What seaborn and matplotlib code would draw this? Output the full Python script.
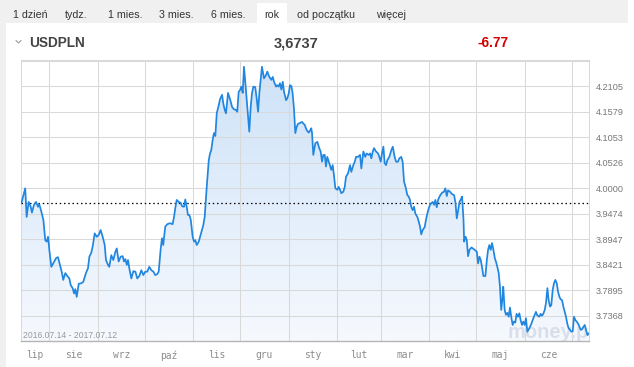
import numpy as np
import pandas as pd
import matplotlib
matplotlib.use('Agg')
import matplotlib.pyplot as plt
import seaborn as sns
from matplotlib.patches import Rectangle, Polygon
from matplotlib.lines import Line2D
from matplotlib.colors import LinearSegmentedColormap

# ---------------- data ----------------
START = '2016-07-14'
END = '2017-07-12'
SYMBOL = 'USDPLN'
LAST = '3,6737'
CHANGE = '-6.77'
DATE_RANGE = '2016.07.14 - 2017.07.12'
TABS = ['1 dzień', 'tydz.', '1 mies.', '3 mies.', '6 mies.', 'rok', 'od początku', 'więcej']
MONTHS = ['lip', 'sie', 'wrz', 'paź', 'lis', 'gru', 'sty', 'lut', 'mar', 'kwi', 'maj', 'cze']
Y_TICKS = [3.7368, 3.7895, 3.8421, 3.8947, 3.9474, 4.0000, 4.0526, 4.1053, 4.1579, 4.2105]
Y_TICK_LABELS = ['3.7368', '3.7895', '3.8421', '3.8947', '3.9474', '4.0000',
                 '4.0526', '4.1053', '4.1579', '4.2105']
Y_EXTRA_GRID = [4.2632]
REF_LEVEL = 3.969

# days since START
DAYS = [0.2, 2.7, 3.6, 4.9, 6.2, 7.0, 8.3, 9.6, 10.9, 11.7, 13.0, 14.3, 15.5, 16.4, 17.3, 18.1, 19.4, 20.6, 22.4, 23.6,
        24.9, 26.2, 27.0, 28.3, 29.6, 30.9, 31.8, 33.0, 33.9, 34.7, 35.6, 36.9, 38.5, 39.8, 41.5, 42.8, 43.7, 44.9, 45.8, 47.1,
        48.4, 49.7, 50.9, 52.2, 53.5, 54.3, 55.6, 56.4, 57.7, 59.0, 60.3, 61.2, 62.4, 63.7, 65.0, 65.8, 66.7, 67.6, 68.4, 69.2,
        70.5, 71.8, 73.1, 74.3, 75.6, 76.9, 78.2, 79.4, 80.7, 82.0, 83.3, 84.6, 85.8, 87.1, 88.0, 89.3, 90.1, 90.9, 92.2, 93.5,
        95.2, 96.9, 97.8, 98.6, 99.5, 100.8, 102.1, 102.9, 104.2, 105.0, 105.9, 106.7, 107.6, 108.5, 109.7, 110.6, 111.4, 112.3, 113.6, 114.8,
        116.5, 117.4, 118.7, 120.0, 120.8, 121.6, 122.5, 123.3, 124.2, 125.1, 126.4, 127.2, 128.5, 129.3, 130.2, 131.0, 132.3, 133.6, 134.9, 136.1,
        137.4, 138.2, 139.1, 140.0, 140.8, 141.7, 142.5, 143.4, 144.6, 145.9, 146.8, 147.6, 148.5, 149.7, 150.6, 151.5, 152.3, 153.2, 154.0, 155.3,
        156.6, 157.4, 158.7, 160.0, 160.9, 161.7, 163.0, 163.8, 164.7, 165.5, 166.4, 167.3, 168.1, 169.4, 170.2, 171.1, 171.9, 172.8, 173.6, 174.5,
        175.3, 176.2, 177.0, 178.3, 179.6, 180.4, 181.3, 182.6, 183.9, 184.7,
        185.5, 186.0, 186.8, 188.1, 189.4, 190.6, 191.5, 192.4, 193.2, 194.1, 194.9, 195.7, 197.0, 198.3, 199.2, 200.0, 200.9, 202.2, 203.0, 203.9,
        204.7, 206.0, 206.9, 207.7, 209.0, 210.3, 211.1, 212.4, 213.3, 214.1, 215.4, 216.7, 217.5, 218.8, 220.0, 220.9, 222.2, 223.1, 223.9, 224.8,
        225.6, 226.9, 228.2, 229.0, 229.9, 230.7, 231.6, 232.4, 233.3, 234.1, 235.4, 236.7, 237.6, 238.8, 239.7, 240.9, 241.8, 243.0, 243.9, 244.8,
        246.0, 246.9, 247.8, 248.6, 249.4, 250.3, 251.2, 252.0, 253.3, 254.2, 255.0, 255.8, 256.7, 258.0, 258.8, 259.7, 260.6, 261.4, 262.2, 263.1,
        264.0, 264.8, 265.7, 266.5,
        267.8, 269.1, 270.3, 271.2, 272.1, 272.9, 274.2, 275.5, 276.8, 277.7, 278.5, 279.4, 280.2, 281.1, 281.9, 282.8, 283.2, 284.1, 284.9, 285.7,
        286.6, 287.9, 288.7, 290.0, 291.3, 292.1, 293.0, 293.8, 294.6, 295.5, 296.8, 297.7, 298.5, 299.3, 300.2, 301.0, 301.9, 302.8, 303.6, 304.4,
        305.3, 306.1, 306.9, 307.8, 308.2, 309.1, 309.9, 310.8, 311.7, 312.5, 313.3, 314.2, 315.0, 315.9, 316.7, 317.6, 318.5, 319.3, 320.2, 321.0,
        321.9, 322.7, 323.6, 324.5, 325.3, 326.1, 327.0, 327.8, 329.1, 329.9, 331.2, 332.1, 332.9, 333.8, 334.7, 335.5, 336.4, 337.2, 338.1, 338.9,
        339.8, 340.6, 341.5, 342.4, 343.2, 344.1, 344.9, 345.8, 346.6, 347.5, 348.3, 349.1, 350.0, 350.9, 351.7, 352.6, 353.4, 354.3, 355.1, 356.0,
        356.9, 357.7, 358.6, 359.4, 360.3, 361.1, 362.0, 362.9]

VALUES = [3.969, 4.000, 3.941, 3.972, 3.962, 3.950, 3.966, 3.972, 3.962, 3.967,
          3.952, 3.935, 3.893, 3.890, 3.900, 3.873, 3.838, 3.845, 3.856, 3.858,
          3.842, 3.825, 3.811, 3.825, 3.819, 3.814, 3.800, 3.794, 3.783, 3.792,
          3.776, 3.803, 3.804, 3.807, 3.825, 3.835, 3.859, 3.867, 3.880, 3.907,
          3.900, 3.904, 3.914, 3.900, 3.883, 3.852, 3.842, 3.838, 3.862, 3.852,
          3.869, 3.876, 3.849, 3.859, 3.860, 3.849, 3.854, 3.842, 3.852, 3.835,
          3.814, 3.829, 3.828, 3.814, 3.819, 3.831, 3.821, 3.828, 3.828, 3.838,
          3.831, 3.828, 3.821, 3.823, 3.828, 3.876, 3.897, 3.883, 3.921, 3.926,
          3.928, 3.926, 3.941, 3.959, 3.976, 3.972, 3.970, 3.963, 3.962, 3.977,
          3.962, 3.945, 3.945, 3.935, 3.900, 3.890, 3.893, 3.883, 3.890, 3.904,
          3.924, 3.941, 4.003, 4.058, 4.072, 4.079, 4.100, 4.114, 4.108, 4.155,
          4.172, 4.184, 4.193, 4.175, 4.162, 4.155, 4.197, 4.184, 4.168, 4.163,
          4.162, 4.158, 4.199, 4.203, 4.210, 4.197, 4.251, 4.217, 4.168, 4.117,
          4.168, 4.196, 4.210, 4.209, 4.186, 4.158, 4.196, 4.224, 4.251, 4.227,
          4.234, 4.241, 4.230, 4.224, 4.230, 4.220, 4.210, 4.213, 4.210, 4.217,
          4.204, 4.220, 4.199, 4.182, 4.186, 4.196, 4.213, 4.211, 4.196, 4.162,
          4.114, 4.127, 4.133, 4.135, 4.137, 4.134, 4.131, 4.120, 4.115, 4.119,
          4.124, 4.114, 4.069, 4.093, 4.096, 4.083, 4.076, 4.055, 4.069, 4.069,
          4.045, 4.065, 4.052, 4.038, 4.048, 4.027, 4.000, 3.997, 4.003, 3.997,
          3.990, 3.993, 4.003, 4.024, 4.031, 4.048, 4.034, 4.048, 4.055, 4.065,
          4.065, 4.069, 4.041, 4.076, 4.065, 4.072, 4.069, 4.072, 4.062, 4.076,
          4.083, 4.076, 4.072, 4.065, 4.055, 4.072, 4.086, 4.052, 4.048, 4.058,
          4.065, 4.079, 4.086, 4.065, 4.055, 4.055, 4.062, 4.065, 4.055, 4.014,
          4.000, 3.986, 3.983, 3.976, 3.962, 3.955, 3.962, 3.948, 3.941, 3.931,
          3.921, 3.905, 3.914, 3.920, 3.935, 3.948, 3.959, 3.966, 3.969, 3.972,
          3.966, 3.976, 3.961, 3.976,
          3.985, 3.991, 3.993, 4.000, 3.984, 3.996, 3.993, 3.988, 3.986, 3.969,
          3.938, 3.955, 3.972, 3.977, 3.983, 3.935, 3.890, 3.900, 3.893, 3.860,
          3.873, 3.878, 3.876, 3.873, 3.869, 3.845, 3.859, 3.852, 3.838, 3.819,
          3.819, 3.852, 3.873, 3.883, 3.873, 3.887, 3.873, 3.856, 3.848, 3.838,
          3.825, 3.797, 3.749, 3.776, 3.797, 3.749, 3.739, 3.743, 3.735, 3.754,
          3.735, 3.718, 3.725, 3.723, 3.741, 3.735, 3.742, 3.728, 3.718, 3.725,
          3.718, 3.732, 3.704, 3.709, 3.714, 3.720, 3.728, 3.735, 3.745, 3.738,
          3.735, 3.741, 3.737, 3.741, 3.749, 3.763, 3.794, 3.769, 3.756, 3.759,
          3.790, 3.804, 3.811, 3.804, 3.787, 3.776, 3.771, 3.769, 3.756, 3.745,
          3.735, 3.721, 3.711, 3.708, 3.704, 3.705, 3.735, 3.728, 3.725, 3.721,
          3.714, 3.708, 3.709, 3.714, 3.718, 3.708, 3.697, 3.701]

n = min(len(DAYS), len(VALUES))
DAYS, VALUES = DAYS[:n], VALUES[:n]

# ---------------- figure ----------------
W, H = 634, 367
sns.set_theme(style='white')
plt.rcParams['font.family'] = ['Liberation Sans', 'DejaVu Sans']

fig = plt.figure(figsize=(W / 100, H / 100), dpi=100)
fig.patch.set_facecolor('#f0f0f0')


def fx(px):
    return px / W


def fy(py):
    return 1 - py / H


# white panel + active tab
fig.add_artist(Rectangle((fx(6), 0), 1, fy(23), transform=fig.transFigure,
                         facecolor='white', edgecolor='none', zorder=0))
fig.add_artist(Rectangle((fx(628), fy(23)), 1, 1, transform=fig.transFigure,
                         facecolor='white', edgecolor='none', zorder=0))
fig.add_artist(Rectangle((fx(257), fy(23)), fx(30), 20 / H, transform=fig.transFigure,
                         facecolor='white', edgecolor='none', zorder=0))

tab_x = [30.5, 76.3, 125.5, 176.7, 228.7, 271.3, 325.8, 391.2]
for t, x in zip(TABS, tab_x):
    fig.text(fx(x), fy(17.5), t, ha='center', va='baseline', fontsize=7.7, color='#333333')

# header
fig.add_artist(Line2D([fx(16), fx(18.5), fx(21)], [fy(40.5), fy(43), fy(40.5)],
                      transform=fig.transFigure, color='#999999', lw=0.8))
fig.text(fx(29.5), fy(47), SYMBOL, ha='left', va='baseline', fontsize=9.8,
         fontweight='bold', color='#444444')
fig.text(fx(296), fy(47), LAST, ha='center', va='baseline', fontsize=10.5,
         fontweight='bold', color='#444444')
fig.text(fx(493.5), fy(47), CHANGE, ha='center', va='baseline', fontsize=9.8,
         fontweight='bold', color='#d40000')

# ---------------- chart ----------------
ax = fig.add_axes([fx(21), fy(341), (589 - 21) / W, (341 - 60) / H])
ax.set_facecolor('white')
start = pd.Timestamp(START)
xmax = (pd.Timestamp(END) - start).days
ylo, yhi = 3.6849, 4.2649
ax.set_xlim(0, xmax)
ax.set_ylim(ylo, yhi)

# gradient fill under the line
cmap = LinearSegmentedColormap.from_list('g', ['#f6f9fe', '#cde2f8'])
grad = np.linspace(0, 1, 256).reshape(-1, 1)
im = ax.imshow(grad, extent=[0, xmax, ylo, yhi], origin='lower', aspect='auto',
               cmap=cmap, zorder=1, interpolation='bilinear')
verts = [(DAYS[0], ylo)] + list(zip(DAYS, VALUES)) + [(DAYS[-1], ylo)]
clip = Polygon(verts, closed=True, transform=ax.transData, facecolor='none', edgecolor='none')
ax.add_patch(clip)
im.set_clip_path(clip)

# grid
grid_c = '#d9d9d9'
for yv in Y_TICKS + Y_EXTRA_GRID:
    ax.axhline(yv, color=grid_c, lw=0.75, zorder=2)
month_starts = pd.date_range('2016-08-01', '2017-07-01', freq='MS')
for ms in month_starts:
    ax.axvline((ms - start).days, color=grid_c, lw=0.75, zorder=2)

# watermark
ax.text(0.857, 0.012, 'money.pl', transform=ax.transAxes, ha='left', va='baseline',
        fontsize=14.5, fontweight='bold', color='#d9dfea', zorder=2.5, clip_on=True)

# reference dotted line
ax.axhline(REF_LEVEL, color='black', lw=0.9, ls=(0, (1.2, 2.2)), zorder=3)

# data line
df = pd.DataFrame({'day': DAYS, 'value': VALUES})
sns.lineplot(data=df, x='day', y='value', ax=ax, color='#2186e0', lw=1.25,
             estimator=None, sort=False, zorder=4)

# date range label
ax.text(0.004, 0.012, DATE_RANGE, transform=ax.transAxes, ha='left', va='baseline',
        fontsize=6.2, color='#999999', zorder=5)

# axes styling
for side in ['top', 'left', 'right']:
    ax.spines[side].set_color(grid_c)
    ax.spines[side].set_linewidth(0.75)
ax.spines['bottom'].set_color('#b5b5b5')
ax.spines['bottom'].set_linewidth(1.0)

ax.yaxis.tick_right()
ax.set_yticks(Y_TICKS)
ax.set_yticklabels(Y_TICK_LABELS)
ax.tick_params(axis='y', length=0, pad=5, labelsize=6.6, labelcolor='#777777')

# month labels centred in each (visible) month
month_begin = pd.date_range('2016-07-01', '2017-06-01', freq='MS')
centers = []
for mb in month_begin:
    a = max((mb - start).days, 0)
    b = ((mb + pd.offsets.MonthBegin(1)) - start).days
    centers.append((a + b) / 2)
ax.set_xticks(centers)
ax.set_xticklabels(MONTHS, family='DejaVu Sans Mono')
ax.tick_params(axis='x', length=0, pad=6.5, labelsize=6.9, labelcolor='#8c8c8c')
ax.set_xlabel('')
ax.set_ylabel('')
ax.grid(False)

fig.savefig('out.png', dpi=100, facecolor=fig.get_facecolor())
